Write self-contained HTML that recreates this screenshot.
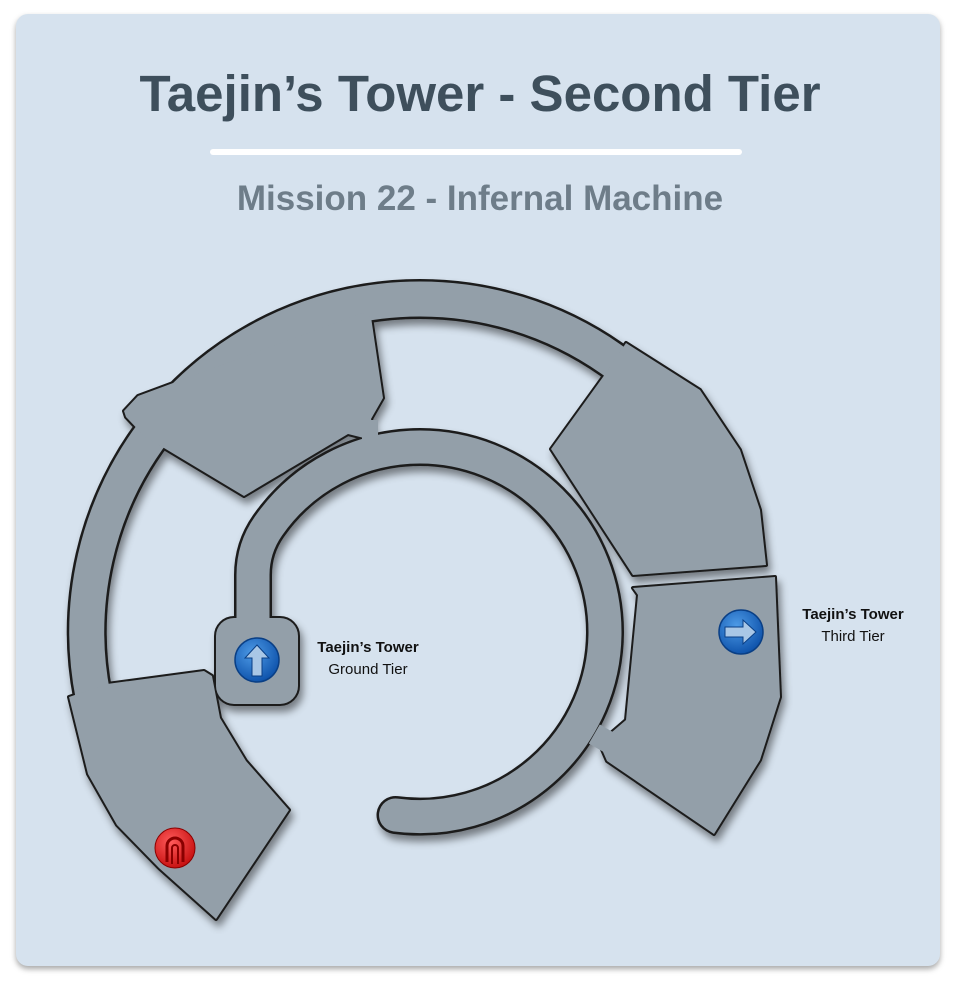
<!DOCTYPE html>
<html><head><meta charset="utf-8"><style>
body{margin:0;background:#fff;width:960px;height:994px;overflow:hidden;font-family:"Liberation Sans",sans-serif}
.card{position:absolute;left:16px;top:14px;width:924px;height:952px;background:#d6e2ee;border-radius:12px;box-shadow:0 3px 6px rgba(0,0,0,.35)}
h1{position:absolute;left:0;width:960px;top:64px;margin:0;text-align:center;font-size:51px;font-weight:bold;color:#3e4f5c}
.line{position:absolute;left:210px;top:149px;width:532px;height:6px;background:#fff;border-radius:3px}
h2{position:absolute;left:0;width:960px;top:179px;margin:0;text-align:center;font-size:35px;font-weight:bold;color:#6e7d89}
svg{position:absolute;left:0;top:0}
</style></head><body>
<div class="card"></div>
<h1>Taejin’s Tower - Second Tier</h1>
<div class="line"></div>
<h2>Mission 22 - Infernal Machine</h2>
<svg width="960" height="994" viewBox="0 0 960 994">
<defs>
<filter id="sh" x="-10%" y="-10%" width="130%" height="130%"><feDropShadow dx="3" dy="6" stdDeviation="4" flood-color="#000" flood-opacity="0.45"/></filter>
<radialGradient id="bl" cx="40%" cy="35%" r="70%"><stop offset="0" stop-color="#4d9ae6"/><stop offset="1" stop-color="#0b4fa8"/></radialGradient>
<radialGradient id="rd" cx="40%" cy="35%" r="70%"><stop offset="0" stop-color="#ff5a5a"/><stop offset="1" stop-color="#c40d0d"/></radialGradient>
</defs>
<g filter="url(#sh)" fill="#1c1c1c" stroke="#1c1c1c" stroke-linejoin="round">
 <path d="M93,696 A333,333 0 0 1 420,299 A333,333 0 0 1 733,518" fill="none" stroke-width="40"/>
 <path d="M395.5,815 A185,185 0 0 0 605,632 A185 185 0 0 0 420,447 A185 185 0 0 0 268.5,526 Q253,548 253,575 L253,630" fill="none" stroke-width="38" stroke-linecap="round"/>
 <rect x="216" y="618" width="82" height="86" rx="18" stroke-width="4"/>
 <polygon stroke-width="4" points="124,411 138,396 362,313 371,317 383,398 371,419 374,430 372,440 348,434 244,496 159,445 145,437 126,417"/>
 <polygon stroke-width="4" points="551,449 603,377 626,343 700,390 740,450 760,510 766,565 633,575"/>
 <polygon stroke-width="4" points="633,588 775,577 780,697 760,760 714,834 607,761 600,745 612,732 626,720 638,595"/>
 <polygon stroke-width="4" points="69,697 107,684 204,671 212,676 220,718 246,761 289,810 216,919 159,868 117,825 88,774"/>
</g>
<g fill="#939fa9" stroke="#939fa9" stroke-linejoin="round">
 <path d="M93,696 A333,333 0 0 1 420,299 A333,333 0 0 1 733,518" fill="none" stroke-width="35"/>
 <path d="M395.5,815 A185,185 0 0 0 605,632 A185 185 0 0 0 420,447 A185 185 0 0 0 268.5,526 Q253,548 253,575 L253,630" fill="none" stroke-width="33" stroke-linecap="round"/>
 <rect x="216" y="618" width="82" height="86" rx="18" stroke-width="0"/>
 <polygon stroke-width="0" points="124,411 138,396 362,313 371,317 383,398 371,419 374,430 372,440 348,434 244,496 159,445 145,437 126,417"/>
 <polygon stroke-width="0" points="551,449 603,377 626,343 700,390 740,450 760,510 766,565 633,575"/>
 <polygon stroke-width="0" points="633,588 775,577 780,697 760,760 714,834 607,761 600,745 612,732 626,720 638,595"/>
 <polygon stroke-width="0" points="69,697 107,684 204,671 212,676 220,718 246,761 289,810 216,919 159,868 117,825 88,774"/>
 <rect x="362" y="420" width="16" height="30" stroke-width="0"/>
 <rect x="593" y="728" width="20" height="22" stroke-width="0" transform="rotate(30 603 739)"/>
</g>
<g>
 <circle cx="257" cy="660" r="22" fill="url(#bl)" stroke="#0a3f85" stroke-width="1.5"/>
 <path d="M257,645 L269,658 L262,658 L262,676 L252,676 L252,658 L245,658 Z" fill="#a9c7e6" stroke="#0a3f85" stroke-width="1"/>
 <circle cx="741" cy="632" r="22" fill="url(#bl)" stroke="#0a3f85" stroke-width="1.5"/>
 <path d="M756,632 L743,620 L743,627 L725,627 L725,637 L743,637 L743,644 Z" fill="#a9c7e6" stroke="#0a3f85" stroke-width="1"/>
 <circle cx="175" cy="848" r="20" fill="url(#rd)" stroke="#8a0000" stroke-width="1"/>
 <path d="M167,862 L167,846 A8,8 0 0 1 183,846 L183,862" fill="none" stroke="#8a0000" stroke-width="3"/>
 <path d="M172,864 L172,848 A3,3 0 0 1 178,848 L178,864" fill="none" stroke="#8a0000" stroke-width="2"/>
</g>
<g font-family="Liberation Sans, sans-serif" font-size="15" fill="#111" text-anchor="middle">
 <text x="368" y="652" font-weight="bold">Taejin’s Tower</text>
 <text x="368" y="674">Ground Tier</text>
 <text x="853" y="619" font-weight="bold">Taejin’s Tower</text>
 <text x="853" y="641">Third Tier</text>
</g>
</svg>
</body></html>
